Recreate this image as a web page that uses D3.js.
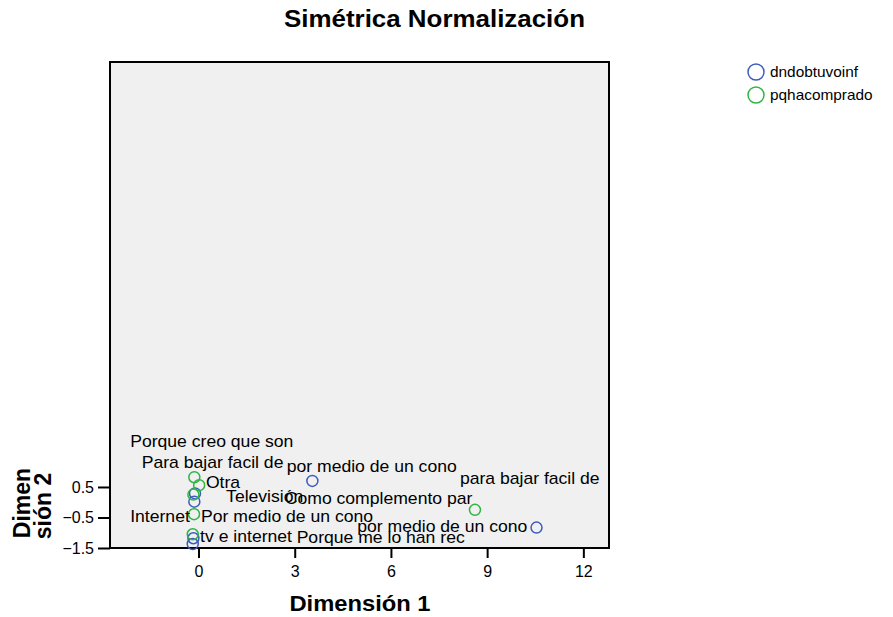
<!DOCTYPE html>
<html>
<head>
<meta charset="utf-8">
<script src="https://cdn.jsdelivr.net/npm/d3@7"></script>
<style>
  html, body { margin: 0; padding: 0; background: #ffffff; }
  svg { display: block; font-family: Arial, "Liberation Sans", sans-serif; }
</style>
</head>
<body>
<svg id="chart" width="893" height="617"></svg>
<script>
// ---- data ----
const seriesNames = ["dndobtuvoinf", "pqhacomprado"];
const dndobtuvoinfX = [3.55, 10.54, -0.11, -0.13, -0.16, -0.18];
const dndobtuvoinfY = [0.70, -0.83, 0.29, 0.02, -1.18, -1.37];
const pqhacompradoX = [8.62, -0.13, 0.02, -0.16, -0.14, -0.18];
const pqhacompradoY = [-0.25, 0.82, 0.56, 0.25, -0.39, -1.05];

const labelTexts = ["Porque creo que son", "Para bajar facil de", "por medio de un cono",
  "para bajar facil de", "Otra", "Televisión", "Como complemento par", "Internet",
  "Por medio de un cono", "por medio de un cono", "tv e internet", "Porque me lo han rec"];
const labelX = [-2.13, -1.77, 2.75, 8.15, 0.23, 0.86, 2.69, -2.13, 0.08, 4.95, 0.05, 3.06];
const labelY = [1.81, 1.12, 1.00, 0.60, 0.47, 0.01, -0.06, -0.64, -0.64, -0.97, -1.29, -1.34];

const xTicks = [0, 3, 6, 9, 12];
const yTicks = [0.5, -0.5, -1.5];
const xDomain = [-2.76, 12.8];
const yDomain = [-1.5, 14.43];

const titleText = "Simétrica Normalización";
const xTitle = "Dimensión 1";
const yTitleLines = ["Dimen", "sión 2"];

// ---- layout / style ----
const colors = {dndobtuvoinf: "#3d5cbd", pqhacomprado: "#2fb544"};
const plot = {left: 110, top: 62, right: 609, bottom: 548};
const svg = d3.select("#chart");

const x = d3.scaleLinear().domain(xDomain).range([plot.left, plot.right]);
const y = d3.scaleLinear().domain(yDomain).range([plot.bottom, plot.top]);

function stretchedText(parent, px, py, str, opts) {
  const g = parent.append("g").attr("transform", `translate(${px},${py}) scale(${opts.sx || 1},1)`);
  return g.append("text")
    .attr("x", 0).attr("y", 0)
    .attr("text-anchor", opts.anchor || "start")
    .attr("font-size", opts.size)
    .attr("font-weight", opts.weight || "normal")
    .attr("fill", "#000")
    .text(str);
}

// title
stretchedText(svg, 434.5, 27, titleText, {size: 24, weight: "bold", anchor: "middle", sx: 1.08});

// plot frame
svg.append("rect")
  .attr("x", plot.left).attr("y", plot.top)
  .attr("width", plot.right - plot.left).attr("height", plot.bottom - plot.top)
  .attr("fill", "#f0f0f0").attr("stroke", "#000").attr("stroke-width", 2);

// axes
const xAxis = svg.append("g").attr("transform", `translate(0,${plot.bottom})`)
  .call(d3.axisBottom(x).tickValues(xTicks).tickSize(10).tickPadding(8).tickFormat(d3.format("d")));
const yAxis = svg.append("g").attr("transform", `translate(${plot.left},0)`)
  .call(d3.axisLeft(y).tickValues(yTicks).tickSize(12).tickPadding(4).tickFormat(d3.format(".1f")));
[xAxis, yAxis].forEach(a => {
  a.select(".domain").remove();
  a.selectAll(".tick line").attr("stroke", "#000").attr("stroke-width", 2);
  a.selectAll(".tick text").attr("font-size", 16).attr("fill", "#000")
    .attr("font-family", 'Arial, "Liberation Sans", sans-serif');
});

// axis titles
stretchedText(svg, 360, 611, xTitle, {size: 22, weight: "bold", anchor: "middle", sx: 1.08});
const yt = svg.append("g").attr("transform", "translate(0,505) rotate(-90)");
yt.append("text").attr("x", 2).attr("y", 30).attr("text-anchor", "middle")
  .attr("font-size", 23).attr("font-weight", "bold").text(yTitleLines[0]);
yt.append("text").attr("x", -1).attr("y", 51).attr("text-anchor", "middle")
  .attr("font-size", 23).attr("font-weight", "bold").text(yTitleLines[1]);

// points
const series = [
  {name: seriesNames[0], xs: dndobtuvoinfX, ys: dndobtuvoinfY},
  {name: seriesNames[1], xs: pqhacompradoX, ys: pqhacompradoY}
];
series.forEach(s => {
  svg.append("g").selectAll("circle")
    .data(s.xs.map((v, i) => [v, s.ys[i]]))
    .join("circle")
    .attr("cx", d => x(d[0])).attr("cy", d => y(d[1]))
    .attr("r", 5.5)
    .attr("fill", "none")
    .attr("stroke", colors[s.name])
    .attr("stroke-width", 1.5);
});

// point labels
const lg = svg.append("g");
labelTexts.forEach((t, i) => {
  stretchedText(lg, x(labelX[i]), y(labelY[i]), t, {size: 16, sx: 1.1});
});

// legend
const legendY = [72, 95];
seriesNames.forEach((n, i) => {
  svg.append("circle").attr("cx", 756).attr("cy", legendY[i]).attr("r", 8)
    .attr("fill", "none").attr("stroke", colors[n]).attr("stroke-width", 1.5);
  stretchedText(svg, 770, legendY[i] + 5, n, {size: 14, sx: 1.1});
});
</script>
</body>
</html>
